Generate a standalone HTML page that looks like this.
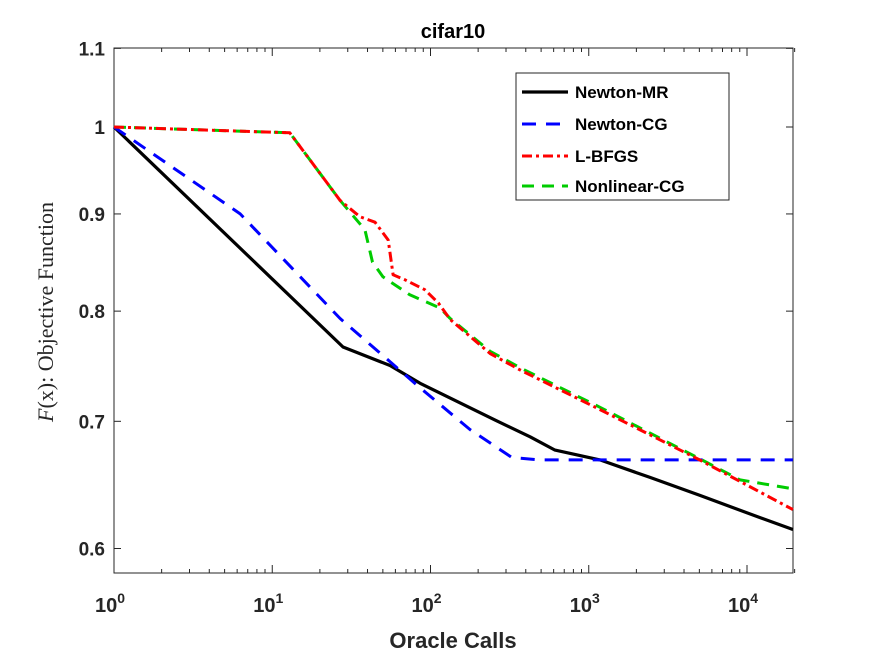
<!DOCTYPE html>
<html><head><meta charset="utf-8"><style>
body{margin:0;background:#fff;}
svg{display:block;font-family:"Liberation Sans",sans-serif;}
</style></head><body>
<svg id="chart" width="875" height="656">
</svg>
<script>
const seriesNames=["Newton-MR","Newton-CG","L-BFGS","Nonlinear-CG"];
const mrX=[1,28,55.5,86,256,426,612,1178,2438,5020,12030,19500];
const mrY=[1.0,0.766,0.749,0.733,0.701,0.687,0.676,0.668,0.654,0.640,0.623,0.614];
const cgX=[1,6.27,26.8,86,178,327,492,19500];
const cgY=[1.0,0.9,0.793,0.729,0.693,0.670,0.668,0.668];
const lbX=[1,12.9,26.8,35.8,44.6,54,58,69,92,112,133,238,368,1178,5020,19500];
const lbY=[1.0,0.993,0.915,0.897,0.891,0.872,0.836,0.831,0.821,0.808,0.792,0.760,0.745,0.710,0.668,0.629];
const ncX=[1,12.9,26.8,38.5,43,50,74,115,133,238,368,1178,5020,9040,19500];
const ncY=[1.0,0.993,0.915,0.883,0.849,0.834,0.816,0.803,0.793,0.762,0.747,0.712,0.669,0.652,0.645];
const yTicks=[0.6,0.7,0.8,0.9,1,1.1];
const yTickLabels=["0.6","0.7","0.8","0.9","1","1.1"];
const xTicks=[0,1,2,3,4];

const L=114,R=793,T=48,B=573;
const xs=v=>L+Math.log10(v)*158.25;
const ys=v=>127-Math.log10(v)*1900;
const svg=document.getElementById('chart');
const NS="http://www.w3.org/2000/svg";
function mk(tag,attrs,parent){const e=document.createElementNS(NS,tag);for(const k in attrs)e.setAttribute(k,attrs[k]);(parent||svg).appendChild(e);return e;}

const box=mk('rect',{x:L,y:T,width:R-L,height:B-T,fill:'none',stroke:'#262626','stroke-width':1});



yTicks.forEach((v,i)=>{
 const y=ys(v);
 const t=mk('line',{x1:L,x2:L+7,y1:y,y2:y,stroke:'#262626'});
 
 
 const t2=mk('line',{x1:R,x2:R-7,y1:y,y2:y,stroke:'#262626'});
 
 
 const tx=mk('text',{x:L-9,y:y+7,'text-anchor':'end','font-size':19,'font-weight':'bold',fill:'#262626'});
 tx.textContent=yTickLabels[i];
 
 
});
xTicks.forEach(p=>{
 const x=xs(Math.pow(10,p));
 const t=mk('line',{x1:x,x2:x,y1:B,y2:B-8,stroke:'#262626'});
 
 
 const t2=mk('line',{x1:x,x2:x,y1:T,y2:T+8,stroke:'#262626'});
 
 
 const tx=mk('text',{x:x-4,y:B+39,'text-anchor':'middle','font-size':20,'font-weight':'bold',fill:'#262626'});
 tx.innerHTML='10<tspan font-size="14" dy="-9">'+p+'</tspan>';
 
 
 for(let m=2;m<=9;m++){
  const v=Math.pow(10,p)*m; if(v>20000)break;
  const mx=xs(v);
  const mt=mk('line',{x1:mx,x2:mx,y1:B,y2:B-4,stroke:'#262626'});
  
  
  const mt2=mk('line',{x1:mx,x2:mx,y1:T,y2:T+4,stroke:'#262626'});
  
  
 }
});

const styles=[
 {X:mrX,Y:mrY,c:'#000',d:'',w:3.2,n:'newton-mr-line'},
 {X:cgX,Y:cgY,c:'#0000ff',d:'14,10',w:3,n:'newton-cg-line'},
 {X:ncX,Y:ncY,c:'#00cc00',d:'12,8',w:3,n:'nonlinear-cg-line'},
 {X:lbX,Y:lbY,c:'#ff0000',d:'10,4,3,4',w:3,n:'lbfgs-line'}
];
styles.forEach(s=>{
 const pts=s.X.map((x,i)=>xs(x).toFixed(1)+','+ys(s.Y[i]).toFixed(1)).join(' ');
 const pl=mk('polyline',{points:pts,fill:'none',stroke:s.c,'stroke-width':s.w,'stroke-dasharray':s.d,'stroke-linejoin':'round'});
 
 
});

const lg=mk('g',{});


mk('rect',{x:516,y:73,width:213,height:127,fill:'#fff',stroke:'#262626'},lg);
const ly=[92,124,156,186];
const legStyles=[styles[0],styles[1],styles[3],styles[2]];
legStyles.forEach((s,i)=>{
 const e=mk('g',{},lg);
 
 
 mk('line',{x1:522,x2:568,y1:ly[i],y2:ly[i],stroke:s.c,'stroke-width':s.w,'stroke-dasharray':s.d},e);
 const t=mk('text',{x:575,y:ly[i]+6,'font-size':17,'font-weight':'bold',fill:'#000'},e);
 t.textContent=seriesNames[i];
});

const title=mk('text',{x:453,y:38,'text-anchor':'middle','font-size':20,'font-weight':'bold',fill:'#000'});
title.textContent='cifar10';


const xl=mk('text',{x:453,y:648,'text-anchor':'middle','font-size':22,'font-weight':'bold',fill:'#262626'});
xl.textContent='Oracle Calls';


const yl=mk('text',{x:0,y:0,'text-anchor':'middle','font-size':22,fill:'#262626','font-family':'"Liberation Serif",serif',transform:'translate(53,312) rotate(-90)'});
yl.innerHTML='<tspan font-style="italic">F</tspan>(x): Objective Function';


</script>
</body></html>
